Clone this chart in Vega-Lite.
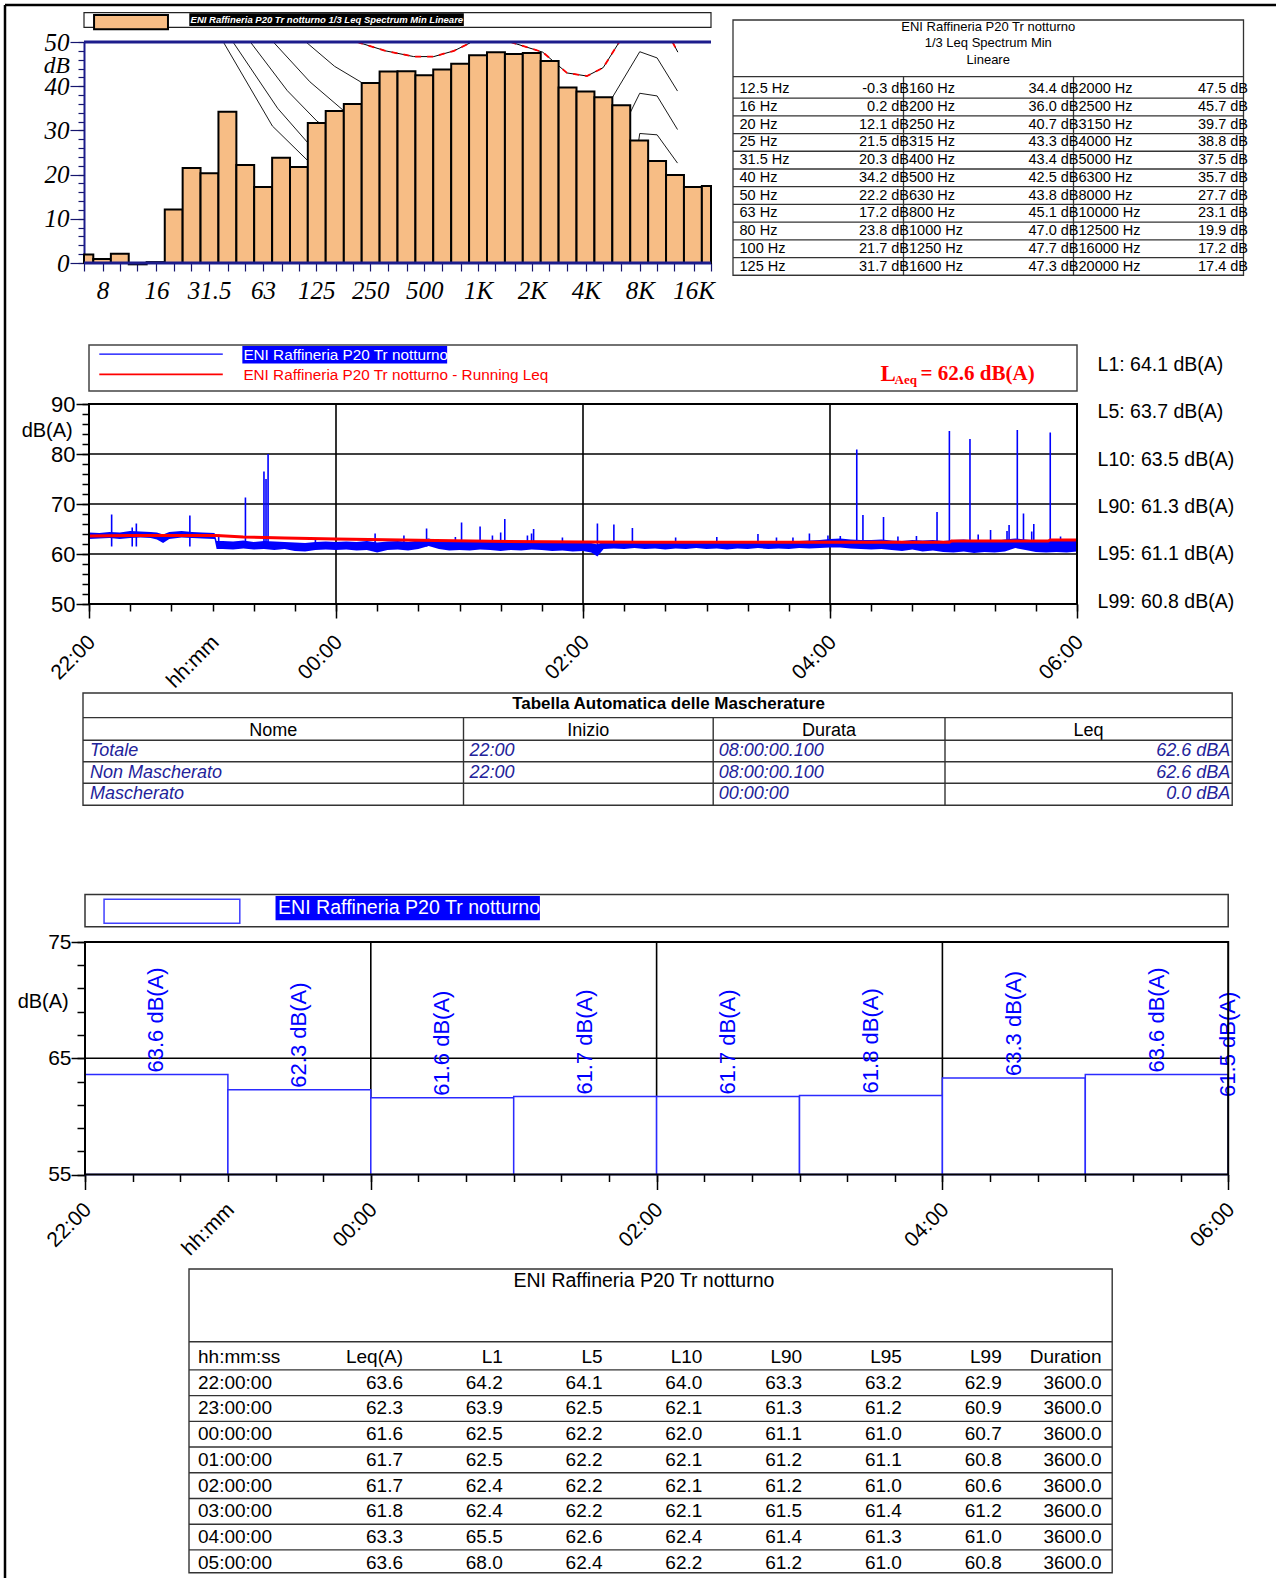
{
"$schema":"https://vega.github.io/schema/vega-lite/v6.json",
"padding":0,"background":"white","spacing":0,"bounds":"flush",
"config":{"view":{"stroke":null},"font":"Liberation Sans","concat":{"spacing":0},"axis":{"labelColor":"black","titleColor":"black","tickColor":"black"}},
"datasets":{
"spec":[
{"f":6.3,"lo":5.6,"hi":7.1,"db":1.9},{"f":8,"lo":7.1,"hi":8.9,"db":0.9},{"f":10,"lo":8.9,"hi":11.2,"db":2.1},
{"f":12.5,"lo":11.2,"hi":14.1,"db":-0.3},{"f":16,"lo":14.1,"hi":17.8,"db":0.2},{"f":20,"lo":17.8,"hi":22.4,"db":12.1},
{"f":25,"lo":22.4,"hi":28.2,"db":21.5},{"f":31.5,"lo":28.2,"hi":35.5,"db":20.3},{"f":40,"lo":35.5,"hi":44.7,"db":34.2},
{"f":50,"lo":44.7,"hi":56.2,"db":22.2},{"f":63,"lo":56.2,"hi":70.8,"db":17.2},{"f":80,"lo":70.8,"hi":89.1,"db":23.8},
{"f":100,"lo":89.1,"hi":112,"db":21.7},{"f":125,"lo":112,"hi":141,"db":31.7},{"f":160,"lo":141,"hi":178,"db":34.4},
{"f":200,"lo":178,"hi":224,"db":36.0},{"f":250,"lo":224,"hi":282,"db":40.7},{"f":315,"lo":282,"hi":355,"db":43.3},
{"f":400,"lo":355,"hi":447,"db":43.4},{"f":500,"lo":447,"hi":562,"db":42.5},{"f":630,"lo":562,"hi":708,"db":43.8},
{"f":800,"lo":708,"hi":891,"db":45.1},{"f":1000,"lo":891,"hi":1122,"db":47.0},{"f":1250,"lo":1122,"hi":1413,"db":47.7},
{"f":1600,"lo":1413,"hi":1778,"db":47.3},{"f":2000,"lo":1778,"hi":2239,"db":47.5},{"f":2500,"lo":2239,"hi":2818,"db":45.7},
{"f":3150,"lo":2818,"hi":3548,"db":39.7},{"f":4000,"lo":3548,"hi":4467,"db":38.8},{"f":5000,"lo":4467,"hi":5623,"db":37.5},
{"f":6300,"lo":5623,"hi":7079,"db":35.7},{"f":8000,"lo":7079,"hi":8913,"db":27.7},{"f":10000,"lo":8913,"hi":11220,"db":23.1},
{"f":12500,"lo":11220,"hi":14125,"db":19.9},{"f":16000,"lo":14125,"hi":17783,"db":17.2},{"f":20000,"lo":17783,"hi":22387,"db":17.4}],
"curves":[
{"id":"c1","f":37.8,"db":50},{"id":"c1","f":71,"db":31},{"id":"c1","f":111,"db":23.3},{"id":"c1","f":160,"db":18},
{"id":"c2","f":42.8,"db":50},{"id":"c2","f":76,"db":35},{"id":"c2","f":112,"db":27.2},{"id":"c2","f":170,"db":21},
{"id":"c3","f":53.5,"db":50},{"id":"c3","f":86,"db":39},{"id":"c3","f":126,"db":32.1},{"id":"c3","f":190,"db":27},
{"id":"c4","f":71.9,"db":50},{"id":"c4","f":115,"db":41},{"id":"c4","f":176,"db":34.6},{"id":"c4","f":250,"db":30},
{"id":"c5","f":109.4,"db":50},{"id":"c5","f":158,"db":44.5},{"id":"c5","f":222.5,"db":40.9},{"id":"c5","f":300,"db":37},
{"id":"t1","f":4500,"db":30},{"id":"t1","f":5690,"db":37.8},{"id":"t1","f":8000,"db":47.8},{"id":"t1","f":10000,"db":46.4},{"id":"t1","f":13000,"db":38.9},
{"id":"t2","f":6000,"db":28},{"id":"t2","f":7374,"db":35.5},{"id":"t2","f":8000,"db":38.4},{"id":"t2","f":10000,"db":37.8},{"id":"t2","f":13000,"db":30.2},
{"id":"t3","f":7400,"db":20},{"id":"t3","f":8000,"db":29.3},{"id":"t3","f":10000,"db":29.0},{"id":"t3","f":13000,"db":22.6}],
"rcurves":[
{"id":"r1","f":211,"db":50},{"id":"r1","f":304,"db":48.0},{"id":"r1","f":437,"db":46.7},{"id":"r1","f":566,"db":46.7},{"id":"r1","f":734,"db":48.0},{"id":"r1","f":903,"db":49.8},
{"id":"r2","f":1516,"db":50},{"id":"r2","f":2297,"db":47.7},{"id":"r2","f":3140,"db":43.0},{"id":"r2","f":4058,"db":42.3},{"id":"r2","f":5000,"db":44.2},{"id":"r2","f":6150,"db":50},
{"id":"r3","f":12193,"db":50},{"id":"r3","f":13056,"db":47.7}],
"stab":[
{"r":1,"fc":"c1","vc":"c2","fq":"12.5 Hz","v":"-0.3 dB"},{"r":1,"fc":"c2","vc":"c3","fq":"160 Hz","v":"34.4 dB"},{"r":1,"fc":"c3","vc":"c4","fq":"2000 Hz","v":"47.5 dB"},
{"r":2,"fc":"c1","vc":"c2","fq":"16 Hz","v":"0.2 dB"},{"r":2,"fc":"c2","vc":"c3","fq":"200 Hz","v":"36.0 dB"},{"r":2,"fc":"c3","vc":"c4","fq":"2500 Hz","v":"45.7 dB"},
{"r":3,"fc":"c1","vc":"c2","fq":"20 Hz","v":"12.1 dB"},{"r":3,"fc":"c2","vc":"c3","fq":"250 Hz","v":"40.7 dB"},{"r":3,"fc":"c3","vc":"c4","fq":"3150 Hz","v":"39.7 dB"},
{"r":4,"fc":"c1","vc":"c2","fq":"25 Hz","v":"21.5 dB"},{"r":4,"fc":"c2","vc":"c3","fq":"315 Hz","v":"43.3 dB"},{"r":4,"fc":"c3","vc":"c4","fq":"4000 Hz","v":"38.8 dB"},
{"r":5,"fc":"c1","vc":"c2","fq":"31.5 Hz","v":"20.3 dB"},{"r":5,"fc":"c2","vc":"c3","fq":"400 Hz","v":"43.4 dB"},{"r":5,"fc":"c3","vc":"c4","fq":"5000 Hz","v":"37.5 dB"},
{"r":6,"fc":"c1","vc":"c2","fq":"40 Hz","v":"34.2 dB"},{"r":6,"fc":"c2","vc":"c3","fq":"500 Hz","v":"42.5 dB"},{"r":6,"fc":"c3","vc":"c4","fq":"6300 Hz","v":"35.7 dB"},
{"r":7,"fc":"c1","vc":"c2","fq":"50 Hz","v":"22.2 dB"},{"r":7,"fc":"c2","vc":"c3","fq":"630 Hz","v":"43.8 dB"},{"r":7,"fc":"c3","vc":"c4","fq":"8000 Hz","v":"27.7 dB"},
{"r":8,"fc":"c1","vc":"c2","fq":"63 Hz","v":"17.2 dB"},{"r":8,"fc":"c2","vc":"c3","fq":"800 Hz","v":"45.1 dB"},{"r":8,"fc":"c3","vc":"c4","fq":"10000 Hz","v":"23.1 dB"},
{"r":9,"fc":"c1","vc":"c2","fq":"80 Hz","v":"23.8 dB"},{"r":9,"fc":"c2","vc":"c3","fq":"1000 Hz","v":"47.0 dB"},{"r":9,"fc":"c3","vc":"c4","fq":"12500 Hz","v":"19.9 dB"},
{"r":10,"fc":"c1","vc":"c2","fq":"100 Hz","v":"21.7 dB"},{"r":10,"fc":"c2","vc":"c3","fq":"1250 Hz","v":"47.7 dB"},{"r":10,"fc":"c3","vc":"c4","fq":"16000 Hz","v":"17.2 dB"},
{"r":11,"fc":"c1","vc":"c2","fq":"125 Hz","v":"31.7 dB"},{"r":11,"fc":"c2","vc":"c3","fq":"1600 Hz","v":"47.3 dB"},{"r":11,"fc":"c3","vc":"c4","fq":"20000 Hz","v":"17.4 dB"}],
"band":[
{"t":"2000-01-01T22:00Z","lo":63.0,"hi":64.3},{"t":"2000-01-01T22:05Z","lo":63.1,"hi":64.2},{"t":"2000-01-01T22:10Z","lo":63.2,"hi":64.4},{"t":"2000-01-01T22:15Z","lo":63.0,"hi":64.3},
{"t":"2000-01-01T22:20Z","lo":63.2,"hi":64.6},{"t":"2000-01-01T22:25Z","lo":63.3,"hi":64.5},{"t":"2000-01-01T22:30Z","lo":63.2,"hi":64.4},{"t":"2000-01-01T22:33Z","lo":62.9,"hi":64.3},
{"t":"2000-01-01T22:36Z","lo":62.2,"hi":63.9},{"t":"2000-01-01T22:39Z","lo":63.0,"hi":64.4},{"t":"2000-01-01T22:45Z","lo":63.3,"hi":64.6},{"t":"2000-01-01T22:50Z","lo":63.2,"hi":64.4},
{"t":"2000-01-01T22:55Z","lo":63.1,"hi":64.3},{"t":"2000-01-01T23:01Z","lo":63.0,"hi":64.2},{"t":"2000-01-01T23:02Z","lo":61.0,"hi":62.6},{"t":"2000-01-01T23:05Z","lo":61.0,"hi":62.6},
{"t":"2000-01-01T23:10Z","lo":60.9,"hi":62.5},{"t":"2000-01-01T23:15Z","lo":61.1,"hi":62.7},{"t":"2000-01-01T23:20Z","lo":60.9,"hi":62.4},{"t":"2000-01-01T23:25Z","lo":61.0,"hi":62.6},
{"t":"2000-01-01T23:30Z","lo":60.8,"hi":62.5},{"t":"2000-01-01T23:35Z","lo":61.0,"hi":62.4},{"t":"2000-01-01T23:40Z","lo":60.6,"hi":62.3},{"t":"2000-01-01T23:45Z","lo":60.5,"hi":62.2},
{"t":"2000-01-01T23:50Z","lo":60.8,"hi":62.4},{"t":"2000-01-01T23:55Z","lo":60.9,"hi":62.5},{"t":"2000-01-02T00:00Z","lo":60.8,"hi":62.4},{"t":"2000-01-02T00:05Z","lo":60.9,"hi":62.5},
{"t":"2000-01-02T00:10Z","lo":60.7,"hi":62.4},{"t":"2000-01-02T00:15Z","lo":60.8,"hi":62.6},{"t":"2000-01-02T00:20Z","lo":60.3,"hi":62.3},{"t":"2000-01-02T00:25Z","lo":60.8,"hi":62.5},
{"t":"2000-01-02T00:30Z","lo":60.9,"hi":62.6},{"t":"2000-01-02T00:35Z","lo":60.7,"hi":62.4},{"t":"2000-01-02T00:40Z","lo":61.0,"hi":62.7},{"t":"2000-01-02T00:45Z","lo":61.6,"hi":63.1},
{"t":"2000-01-02T00:50Z","lo":61.0,"hi":62.6},{"t":"2000-01-02T00:55Z","lo":60.7,"hi":62.4},{"t":"2000-01-02T01:00Z","lo":60.8,"hi":62.5},{"t":"2000-01-02T01:05Z","lo":60.7,"hi":62.5},
{"t":"2000-01-02T01:10Z","lo":60.9,"hi":62.7},{"t":"2000-01-02T01:15Z","lo":60.8,"hi":62.6},{"t":"2000-01-02T01:20Z","lo":60.6,"hi":62.4},{"t":"2000-01-02T01:25Z","lo":60.8,"hi":62.7},
{"t":"2000-01-02T01:30Z","lo":60.7,"hi":62.5},{"t":"2000-01-02T01:35Z","lo":60.9,"hi":62.6},{"t":"2000-01-02T01:40Z","lo":60.8,"hi":62.6},{"t":"2000-01-02T01:45Z","lo":60.6,"hi":62.4},
{"t":"2000-01-02T01:50Z","lo":60.7,"hi":62.5},{"t":"2000-01-02T01:55Z","lo":60.5,"hi":62.3},{"t":"2000-01-02T02:00Z","lo":60.6,"hi":62.4},{"t":"2000-01-02T02:04Z","lo":60.3,"hi":62.2},
{"t":"2000-01-02T02:07Z","lo":59.5,"hi":61.9},{"t":"2000-01-02T02:10Z","lo":61.0,"hi":62.5},{"t":"2000-01-02T02:15Z","lo":61.1,"hi":62.5},{"t":"2000-01-02T02:20Z","lo":61.0,"hi":62.4},
{"t":"2000-01-02T02:25Z","lo":61.2,"hi":62.6},{"t":"2000-01-02T02:30Z","lo":61.0,"hi":62.4},{"t":"2000-01-02T02:35Z","lo":61.1,"hi":62.5},{"t":"2000-01-02T02:40Z","lo":60.9,"hi":62.3},
{"t":"2000-01-02T02:45Z","lo":61.1,"hi":62.5},{"t":"2000-01-02T02:50Z","lo":61.0,"hi":62.4},{"t":"2000-01-02T02:55Z","lo":61.2,"hi":62.6},{"t":"2000-01-02T03:00Z","lo":61.0,"hi":62.5},
{"t":"2000-01-02T03:05Z","lo":61.1,"hi":62.4},{"t":"2000-01-02T03:10Z","lo":60.9,"hi":62.5},{"t":"2000-01-02T03:15Z","lo":61.1,"hi":62.6},{"t":"2000-01-02T03:20Z","lo":61.0,"hi":62.4},
{"t":"2000-01-02T03:25Z","lo":61.2,"hi":62.5},{"t":"2000-01-02T03:30Z","lo":61.0,"hi":62.4},{"t":"2000-01-02T03:35Z","lo":61.1,"hi":62.6},{"t":"2000-01-02T03:40Z","lo":61.0,"hi":62.5},
{"t":"2000-01-02T03:45Z","lo":61.2,"hi":62.6},{"t":"2000-01-02T03:50Z","lo":61.1,"hi":62.7},{"t":"2000-01-02T03:55Z","lo":61.2,"hi":62.8},{"t":"2000-01-02T04:00Z","lo":61.3,"hi":63.0},
{"t":"2000-01-02T04:05Z","lo":61.3,"hi":63.1},{"t":"2000-01-02T04:10Z","lo":61.1,"hi":62.9},{"t":"2000-01-02T04:15Z","lo":61.0,"hi":62.8},{"t":"2000-01-02T04:20Z","lo":60.9,"hi":62.8},
{"t":"2000-01-02T04:25Z","lo":61.0,"hi":62.9},{"t":"2000-01-02T04:30Z","lo":60.8,"hi":62.7},{"t":"2000-01-02T04:35Z","lo":60.6,"hi":62.6},{"t":"2000-01-02T04:40Z","lo":60.9,"hi":62.8},
{"t":"2000-01-02T04:45Z","lo":60.5,"hi":62.7},{"t":"2000-01-02T04:50Z","lo":60.7,"hi":62.8},{"t":"2000-01-02T04:55Z","lo":60.4,"hi":62.6},{"t":"2000-01-02T05:00Z","lo":60.3,"hi":62.8},
{"t":"2000-01-02T05:05Z","lo":60.5,"hi":62.9},{"t":"2000-01-02T05:10Z","lo":60.2,"hi":62.7},{"t":"2000-01-02T05:15Z","lo":60.4,"hi":62.8},{"t":"2000-01-02T05:20Z","lo":60.3,"hi":62.6},
{"t":"2000-01-02T05:25Z","lo":60.5,"hi":62.9},{"t":"2000-01-02T05:30Z","lo":61.2,"hi":63.1},{"t":"2000-01-02T05:35Z","lo":60.8,"hi":62.9},{"t":"2000-01-02T05:40Z","lo":60.4,"hi":62.7},
{"t":"2000-01-02T05:45Z","lo":60.3,"hi":62.8},{"t":"2000-01-02T05:50Z","lo":60.4,"hi":62.7},{"t":"2000-01-02T05:55Z","lo":60.3,"hi":62.6},{"t":"2000-01-02T06:00Z","lo":60.5,"hi":62.8}],
"spk":[
{"t":"2000-01-01T22:11Z","p":67.9},{"t":"2000-01-01T22:21Z","p":65.3},{"t":"2000-01-01T22:23Z","p":66.1},{"t":"2000-01-01T22:49Z","p":67.7},
{"t":"2000-01-01T23:03Z","p":63.9},{"t":"2000-01-01T23:16Z","p":71.3},{"t":"2000-01-01T23:25Z","p":76.5},{"t":"2000-01-01T23:26Z","p":75.0},
{"t":"2000-01-01T23:27Z","p":80.0},{"t":"2000-01-01T23:50Z","p":63.2},{"t":"2000-01-02T00:19Z","p":64.1},{"t":"2000-01-02T00:33Z","p":63.7},
{"t":"2000-01-02T00:44Z","p":65.1},{"t":"2000-01-02T00:58Z","p":63.4},{"t":"2000-01-02T01:01Z","p":66.3},{"t":"2000-01-02T01:10Z","p":65.5},
{"t":"2000-01-02T01:16Z","p":63.7},{"t":"2000-01-02T01:20Z","p":64.3},{"t":"2000-01-02T01:22Z","p":67.0},{"t":"2000-01-02T01:33Z","p":63.7},
{"t":"2000-01-02T01:35Z","p":64.1},{"t":"2000-01-02T01:36Z","p":65.0},{"t":"2000-01-02T01:50Z","p":63.3},{"t":"2000-01-02T02:07Z","p":66.1},
{"t":"2000-01-02T02:15Z","p":65.9},{"t":"2000-01-02T02:24Z","p":65.2},{"t":"2000-01-02T02:45Z","p":63.3},{"t":"2000-01-02T03:05Z","p":63.4},
{"t":"2000-01-02T03:25Z","p":64.0},{"t":"2000-01-02T03:34Z","p":63.3},{"t":"2000-01-02T03:42Z","p":63.3},{"t":"2000-01-02T03:50Z","p":64.1},
{"t":"2000-01-02T03:59Z","p":63.7},{"t":"2000-01-02T04:05Z","p":63.6},{"t":"2000-01-02T04:13Z","p":80.9},{"t":"2000-01-02T04:16Z","p":67.8},
{"t":"2000-01-02T04:26Z","p":67.4},{"t":"2000-01-02T04:33Z","p":63.5},{"t":"2000-01-02T04:42Z","p":63.6},{"t":"2000-01-02T04:52Z","p":68.4},
{"t":"2000-01-02T04:58Z","p":84.6},{"t":"2000-01-02T05:08Z","p":83.0},{"t":"2000-01-02T05:12Z","p":63.9},{"t":"2000-01-02T05:18Z","p":64.8},
{"t":"2000-01-02T05:26Z","p":64.6},{"t":"2000-01-02T05:27Z","p":65.8},{"t":"2000-01-02T05:31Z","p":84.8},{"t":"2000-01-02T05:34Z","p":68.1},
{"t":"2000-01-02T05:38Z","p":64.5},{"t":"2000-01-02T05:39Z","p":66.0},{"t":"2000-01-02T05:47Z","p":84.3},{"t":"2000-01-02T05:52Z","p":63.5}],
"rleq":[
{"t":"2000-01-01T22:00Z","v":63.6},{"t":"2000-01-01T22:20Z","v":63.7},{"t":"2000-01-01T23:02Z","v":63.7},{"t":"2000-01-01T23:15Z","v":63.4},
{"t":"2000-01-01T23:35Z","v":63.2},{"t":"2000-01-02T00:00Z","v":63.0},{"t":"2000-01-02T00:40Z","v":62.75},{"t":"2000-01-02T01:15Z","v":62.55},
{"t":"2000-01-02T02:00Z","v":62.4},{"t":"2000-01-02T02:30Z","v":62.35},{"t":"2000-01-02T04:58Z","v":62.35},{"t":"2000-01-02T04:59Z","v":62.6},
{"t":"2000-01-02T05:46Z","v":62.6},{"t":"2000-01-02T05:47Z","v":62.8},{"t":"2000-01-02T06:00Z","v":62.8}],
"lvals":[{"k":"L1","txt":"L1: 64.1 dB(A)"},{"k":"L5","txt":"L5: 63.7 dB(A)"},{"k":"L10","txt":"L10: 63.5 dB(A)"},{"k":"L90","txt":"L90: 61.3 dB(A)"},{"k":"L95","txt":"L95: 61.1 dB(A)"},{"k":"L99","txt":"L99: 60.8 dB(A)"}],
"mask":[{"Nome":"Totale","Inizio":"22:00","Durata":"08:00:00.100","Leq":"62.6 dBA"},{"Nome":"Non Mascherato","Inizio":"22:00","Durata":"08:00:00.100","Leq":"62.6 dBA"},{"Nome":"Mascherato","Inizio":"","Durata":"00:00:00","Leq":"0.0 dBA"}],
"hour":[
{"s":"2000-01-01T22:00Z","e":"2000-01-01T23:00Z","leq":63.6,"lab":"63.6 dB(A)"},{"s":"2000-01-01T23:00Z","e":"2000-01-02T00:00Z","leq":62.3,"lab":"62.3 dB(A)"},
{"s":"2000-01-02T00:00Z","e":"2000-01-02T01:00Z","leq":61.6,"lab":"61.6 dB(A)"},{"s":"2000-01-02T01:00Z","e":"2000-01-02T02:00Z","leq":61.7,"lab":"61.7 dB(A)"},
{"s":"2000-01-02T02:00Z","e":"2000-01-02T03:00Z","leq":61.7,"lab":"61.7 dB(A)"},{"s":"2000-01-02T03:00Z","e":"2000-01-02T04:00Z","leq":61.8,"lab":"61.8 dB(A)"},
{"s":"2000-01-02T04:00Z","e":"2000-01-02T05:00Z","leq":63.3,"lab":"63.3 dB(A)"},{"s":"2000-01-02T05:00Z","e":"2000-01-02T06:00Z","leq":63.6,"lab":"63.6 dB(A)"}],
"bt":[
{"t":"22:00:00","Leq":63.6,"L1":64.2,"L5":64.1,"L10":64.0,"L90":63.3,"L95":63.2,"L99":62.9,"Duration":3600.0},
{"t":"23:00:00","Leq":62.3,"L1":63.9,"L5":62.5,"L10":62.1,"L90":61.3,"L95":61.2,"L99":60.9,"Duration":3600.0},
{"t":"00:00:00","Leq":61.6,"L1":62.5,"L5":62.2,"L10":62.0,"L90":61.1,"L95":61.0,"L99":60.7,"Duration":3600.0},
{"t":"01:00:00","Leq":61.7,"L1":62.5,"L5":62.2,"L10":62.1,"L90":61.2,"L95":61.1,"L99":60.8,"Duration":3600.0},
{"t":"02:00:00","Leq":61.7,"L1":62.4,"L5":62.2,"L10":62.1,"L90":61.2,"L95":61.0,"L99":60.6,"Duration":3600.0},
{"t":"03:00:00","Leq":61.8,"L1":62.4,"L5":62.2,"L10":62.1,"L90":61.5,"L95":61.4,"L99":61.2,"Duration":3600.0},
{"t":"04:00:00","Leq":63.3,"L1":65.5,"L5":62.6,"L10":62.4,"L90":61.4,"L95":61.3,"L99":61.0,"Duration":3600.0},
{"t":"05:00:00","Leq":63.6,"L1":68.0,"L5":62.4,"L10":62.2,"L90":61.2,"L95":61.0,"L99":60.8,"Duration":3600.0}],
"bth":[{"k":"Leq","h":"Leq(A)"},{"k":"L1","h":"L1"},{"k":"L5","h":"L5"},{"k":"L10","h":"L10"},{"k":"L90","h":"L90"},{"k":"L95","h":"L95"},{"k":"L99","h":"L99"},{"k":"Duration","h":"Duration"}]
},
"vconcat":[
{"width":10,"height":42,"data":{"values":[]},"mark":"point"},
{"hconcat":[
 {"width":84,"height":221,"data":{"values":[]},"mark":"point"},
 {"width":627,"height":221,
  "resolve":{"scale":{"x":"independent","y":"independent"},"axis":{"x":"independent","y":"independent"}},
  "layer":[
   {"data":{"values":[{}]},"mark":{"type":"rule","color":"black","strokeWidth":2.5},"encoding":{"x":{"datum":0,"type":"quantitative","scale":{"domain":[0,1],"range":[-79,1192],"nice":false,"zero":false},"axis":null},"y":{"datum":0,"type":"quantitative","scale":{"domain":[0,1],"range":[-37,1536],"nice":false,"zero":false},"axis":null},"y2":{"datum":1}}},
   {"data":{"values":[{}]},"mark":{"type":"rule","color":"black","strokeWidth":2.5},"encoding":{"x":{"datum":0,"type":"quantitative","scale":{"domain":[0,1],"range":[-79,1192],"nice":false,"zero":false},"axis":null},"x2":{"datum":1},"y":{"datum":0,"type":"quantitative","scale":{"domain":[0,1],"range":[-37,1536],"nice":false,"zero":false},"axis":null}}},
   {"data":{"values":[{}]},"mark":{"type":"rect","fill":"white","stroke":"#222222","strokeWidth":1.2},"encoding":{"x":{"datum":6.3,"type":"quantitative","scale":{"type":"log","domain":[6.3,20000],"range":[0,627],"clamp":true,"nice":false},"axis":null},"x2":{"datum":20000},"y":{"datum":53.33,"type":"quantitative","scale":{"domain":[0,50],"range":[221,0],"nice":false,"zero":false},"axis":null},"y2":{"datum":56.63}}},
   {"data":{"values":[{}]},"mark":{"type":"rect","fill":"#F7BD85","stroke":"black","strokeWidth":2},"encoding":{"x":{"datum":7.17,"type":"quantitative","scale":{"type":"log","domain":[6.3,20000],"range":[0,627],"clamp":true,"nice":false},"axis":null},"x2":{"datum":18.55},"y":{"datum":52.87,"type":"quantitative","scale":{"domain":[0,50],"range":[221,0],"nice":false,"zero":false},"axis":null},"y2":{"datum":56.1}}},
   {"data":{"values":[{}]},"mark":{"type":"rect","fill":"black"},"encoding":{"x":{"datum":24.4,"type":"quantitative","scale":{"type":"log","domain":[6.3,20000],"range":[0,627],"clamp":true,"nice":false},"axis":null},"x2":{"datum":833},"y":{"datum":53.62,"type":"quantitative","scale":{"domain":[0,50],"range":[221,0],"nice":false,"zero":false},"axis":null},"y2":{"datum":56.49}}},
   {"data":{"values":[{}]},"mark":{"type":"text","align":"left","baseline":"middle","fontStyle":"italic","fontWeight":"bold","fontSize":9.5,"color":"white"},"encoding":{"x":{"datum":24.8,"type":"quantitative","scale":{"type":"log","domain":[6.3,20000],"range":[0,627],"clamp":true,"nice":false},"axis":null},"y":{"datum":55.05,"type":"quantitative","scale":{"domain":[0,50],"range":[221,0],"nice":false,"zero":false},"axis":null},"text":{"value":"ENI Raffineria P20 Tr notturno 1/3 Leq Spectrum Min Lineare"}}},
   {"data":{"name":"curves"},"mark":{"type":"line","color":"black","strokeWidth":0.9},"encoding":{"x":{"field":"f","type":"quantitative","scale":{"type":"log","domain":[6.3,20000],"range":[0,627],"clamp":true,"nice":false},"axis":null},"y":{"field":"db","type":"quantitative","scale":{"domain":[0,50],"range":[221,0],"nice":false,"zero":false},"axis":null},"detail":{"field":"id","type":"nominal"}}},
   {"data":{"name":"rcurves"},"mark":{"type":"line","color":"black","strokeWidth":1},"encoding":{"x":{"field":"f","type":"quantitative","scale":{"type":"log","domain":[6.3,20000],"range":[0,627],"clamp":true,"nice":false},"axis":null},"y":{"field":"db","type":"quantitative","scale":{"domain":[0,50],"range":[221,0],"nice":false,"zero":false},"axis":null},"detail":{"field":"id","type":"nominal"}}},
   {"data":{"name":"rcurves"},"mark":{"type":"line","color":"#ff0000","strokeWidth":1.8,"strokeDash":[6,6]},"encoding":{"x":{"field":"f","type":"quantitative","scale":{"type":"log","domain":[6.3,20000],"range":[0,627],"clamp":true,"nice":false},"axis":null},"y":{"field":"db","type":"quantitative","scale":{"domain":[0,50],"range":[221,0],"nice":false,"zero":false},"axis":null},"detail":{"field":"id","type":"nominal"}}},
   {"data":{"name":"spec"},"mark":{"type":"rect","fill":"#F7BD85","stroke":"black","strokeWidth":2},
    "encoding":{
     "x":{"field":"lo","type":"quantitative","scale":{"type":"log","domain":[6.3,20000],"range":[0,627],"clamp":true,"nice":false},
      "axis":{"orient":"bottom","values":[6.3,8,10,12.5,16,20,25,31.5,40,50,63,80,100,125,160,200,250,315,400,500,630,800,1000,1250,1600,2000,2500,3150,4000,5000,6300,8000,10000,12500,16000,20000],
       "labelExpr":"indexof([8,16,31.5,63,125,250,500], datum.value) >= 0 ? '' + datum.value : (indexof([1000,2000,4000,8000,16000], datum.value) >= 0 ? (datum.value/1000) + 'K' : '')",
       "domain":false,"grid":false,"title":null,"tickSize":8,"tickWidth":1.2,"tickColor":"#15156e","labelFont":"Liberation Serif","labelFontStyle":"italic","labelFontSize":25,"labelPadding":7,"labelBaseline":"top","labelOverlap":false,"labelBound":false,"labelFlush":false}},
     "x2":{"field":"hi"},
     "y":{"field":"db","type":"quantitative","scale":{"domain":[0,50],"range":[221,0],"nice":false,"zero":false},
      "axis":{"orient":"left","values":[0,2,4,6,8,10,12,14,16,18,20,22,24,26,28,30,32,34,36,38,40,42,44,46,48,50],
       "labelExpr":"datum.value % 10 == 0 ? '' + datum.value : ''","domain":true,"domainColor":"#1c1c8c","domainWidth":2,"grid":false,
       "tickSize":6,"tickColor":"#15156e","tickWidth":1.2,
       "labelFont":"Liberation Serif","labelFontStyle":"italic","labelFontSize":25,"labelPadding":9,"labelOverlap":false,"labelBound":false,"labelFlush":false,
       "title":"dB","titleAngle":0,"titleX":-27.6,"titleY":23.5,"titleAlign":"center","titleBaseline":"middle","titleFont":"Liberation Serif","titleFontStyle":"italic","titleFontSize":23.5,"titleFontWeight":"normal"}},
     "y2":{"datum":0}}},
   {"data":{"values":[{}]},"mark":{"type":"rule","color":"#1c1c8c","strokeWidth":3},"encoding":{"x":{"datum":6.3,"type":"quantitative","scale":{"type":"log","domain":[6.3,20000],"range":[0,627],"clamp":true,"nice":false},"axis":null},"x2":{"datum":20000},"y":{"datum":50,"type":"quantitative","scale":{"domain":[0,50],"range":[221,0],"nice":false,"zero":false},"axis":{"orient":"left","values":[0,10,20,30,40,50],"tickSize":14,"labels":false,"domain":false,"grid":false,"title":null,"tickColor":"#15156e","tickWidth":1.2}}}},
   {"data":{"values":[{}]},"mark":{"type":"rule","color":"#1c1c8c","strokeWidth":3},"encoding":{"x":{"datum":6.3,"type":"quantitative","scale":{"type":"log","domain":[6.3,20000],"range":[0,627],"clamp":true,"nice":false},"axis":null},"x2":{"datum":20000},"y":{"datum":0,"type":"quantitative","scale":{"domain":[0,50],"range":[221,0],"nice":false,"zero":false},"axis":null}}}
  ]},
 {"width":21.5,"height":221,"data":{"values":[]},"mark":"point"},
 {"width":510.5,"height":221,
  "resolve":{"scale":{"x":"independent","y":"independent"},"axis":{"x":"independent","y":"independent"}},
  "layer":[
   {"data":{"values":[{}]},"mark":{"type":"rect","fillOpacity":0,"stroke":"#333333","strokeWidth":1.3},"encoding":{"x":{"datum":0,"type":"quantitative","scale":{"domain":[0,1],"range":[0,510.5],"nice":false,"zero":false},"axis":null},"x2":{"datum":1},"y":{"datum":0,"type":"quantitative","scale":{"domain":[0,1],"range":[-22,233.3],"nice":false,"zero":false},"axis":null},"y2":{"datum":1}}},
   {"data":{"values":[{}]},"mark":{"type":"rule","color":"#333333","strokeWidth":1.3},"encoding":{"x":{"datum":0,"type":"quantitative","scale":{"domain":[0,1],"range":[0,510.5],"nice":false,"zero":false},"axis":null},"x2":{"datum":1},"y":{"datum":0.2221,"type":"quantitative","scale":{"domain":[0,1],"range":[-22,233.3],"nice":false,"zero":false},"axis":null}}},
   {"data":{"values":[{}]},"mark":{"type":"rule","color":"#333333","strokeWidth":1.3},"encoding":{"x":{"datum":0.334,"type":"quantitative","scale":{"domain":[0,1],"range":[0,510.5],"nice":false,"zero":false},"axis":null},"y":{"datum":0.2221,"type":"quantitative","scale":{"domain":[0,1],"range":[-22,233.3],"nice":false,"zero":false},"axis":null},"y2":{"datum":1}}},
   {"data":{"values":[{}]},"mark":{"type":"rule","color":"#333333","strokeWidth":1.3},"encoding":{"x":{"datum":0.667,"type":"quantitative","scale":{"domain":[0,1],"range":[0,510.5],"nice":false,"zero":false},"axis":null},"y":{"datum":0.2221,"type":"quantitative","scale":{"domain":[0,1],"range":[-22,233.3],"nice":false,"zero":false},"axis":null},"y2":{"datum":1}}},
   {"data":{"values":[{}]},"mark":{"type":"text","align":"center","baseline":"middle","fontSize":13,"lineHeight":16.7,"color":"black"},"encoding":{"x":{"datum":0.5,"type":"quantitative","scale":{"domain":[0,1],"range":[0,510.5],"nice":false,"zero":false},"axis":null},"y":{"datum":0.0262,"type":"quantitative","scale":{"domain":[0,1],"range":[-22,233.3],"nice":false,"zero":false},"axis":null},"text":{"value":["ENI Raffineria P20 Tr notturno","1/3 Leq Spectrum Min","Lineare"]}}},
   {"data":{"name":"stab"},"transform":[{"filter":"datum.fc == 'c1'"}],"mark":{"type":"rule","color":"#333333","strokeWidth":1.3,"yOffset":8.87},"encoding":{"x":{"datum":0,"type":"quantitative","scale":{"domain":[0,1],"range":[0,510.5],"nice":false,"zero":false},"axis":null},"x2":{"datum":1},"y":{"field":"r","type":"ordinal","scale":{"type":"point","domain":[1,2,3,4,5,6,7,8,9,10,11],"range":[47.2,224.5],"padding":0},"axis":null}}},
   {"data":{"name":"stab"},"mark":{"type":"text","align":"left","baseline":"middle","fontSize":14.5,"color":"black"},"encoding":{"x":{"field":"fc","type":"nominal","scale":{"type":"point","domain":["c1","c2","c3","c4"],"range":[6.5,515],"padding":0},"axis":null},"y":{"field":"r","type":"ordinal","scale":{"type":"point","domain":[1,2,3,4,5,6,7,8,9,10,11],"range":[47.2,224.5],"padding":0},"axis":null},"text":{"field":"fq"}}},
   {"data":{"name":"stab"},"mark":{"type":"text","align":"right","baseline":"middle","fontSize":14.5,"color":"black"},"encoding":{"x":{"field":"vc","type":"nominal","scale":{"type":"point","domain":["c1","c2","c3","c4"],"range":[6.5,515],"padding":0},"axis":null},"y":{"field":"r","type":"ordinal","scale":{"type":"point","domain":[1,2,3,4,5,6,7,8,9,10,11],"range":[47.2,224.5],"padding":0},"axis":null},"text":{"field":"v"}}}
  ]}
],"spacing":0,"bounds":"flush"},
{"width":10,"height":362,"data":{"values":[]},"mark":"point"},
{"hconcat":[
 {"width":88.6,"height":200,"data":{"values":[]},"mark":"point"},
 {"width":988,"height":200,
  "resolve":{"scale":{"x":"independent","y":"independent"},"axis":{"x":"independent","y":"independent"}},
  "layer":[
   {"data":{"values":[{"g":60},{"g":70},{"g":80}]},"mark":{"type":"rule","color":"black","strokeWidth":1.6},"encoding":{
     "x":{"datum":946764000000,"type":"temporal","scale":{"type":"utc","domain":[946764000000,946792800000],"range":[0,988],"nice":false},"axis":{"orient":"bottom","values":[946764000000,946771200000,946778400000,946785600000,946792800000],"tickSize":14,"labels":false,"domain":false,"grid":false,"title":null,"tickWidth":1.5,"tickColor":"black"}},
     "x2":{"datum":946792800000},
     "y":{"field":"g","type":"quantitative","scale":{"domain":[50,90],"range":[200,0],"nice":false,"zero":false},"axis":{"orient":"left","values":[50,60,70,80,90],"tickSize":13,"labels":false,"domain":false,"grid":false,"title":null,"tickWidth":1.5,"tickColor":"black"}}}},
   {"data":{"values":[{"g":"2000-01-02T00:00Z"},{"g":"2000-01-02T02:00Z"},{"g":"2000-01-02T04:00Z"}]},"mark":{"type":"rule","color":"black","strokeWidth":1.6},"encoding":{"x":{"field":"g","type":"temporal","scale":{"type":"utc","domain":[946764000000,946792800000],"range":[0,988],"nice":false},"axis":null},"y":{"datum":50,"type":"quantitative","scale":{"domain":[50,90],"range":[200,0],"nice":false,"zero":false},"axis":null},"y2":{"datum":90}}},
   {"data":{"name":"band"},"mark":{"type":"area","color":"#0000ff","opacity":1},"encoding":{"x":{"field":"t","type":"temporal","scale":{"type":"utc","domain":[946764000000,946792800000],"range":[0,988],"nice":false},"axis":null},"y":{"field":"hi","type":"quantitative","scale":{"domain":[50,90],"range":[200,0],"nice":false,"zero":false},"axis":null},"y2":{"field":"lo"}}},
   {"data":{"name":"spk"},"mark":{"type":"rule","color":"#0000ff","strokeWidth":1.6},"encoding":{"x":{"field":"t","type":"temporal","scale":{"type":"utc","domain":[946764000000,946792800000],"range":[0,988],"nice":false},"axis":null},"y":{"field":"p","type":"quantitative","scale":{"domain":[50,90],"range":[200,0],"nice":false,"zero":false},"axis":null},"y2":{"datum":61.5}}},
   {"data":{"name":"rleq"},"mark":{"type":"line","color":"#ff0000","strokeWidth":3},"encoding":{"x":{"field":"t","type":"temporal","scale":{"type":"utc","domain":[946764000000,946792800000],"range":[0,988],"nice":false},"axis":null},"y":{"field":"v","type":"quantitative","scale":{"domain":[50,90],"range":[200,0],"nice":false,"zero":false},"axis":null}}},
   {"data":{"values":[{}]},"mark":{"type":"rect","fillOpacity":0,"stroke":"black","strokeWidth":2},
    "encoding":{
     "x":{"datum":946764000000,"type":"temporal","scale":{"type":"utc","domain":[946764000000,946792800000],"range":[0,988],"nice":false},
      "axis":{"orient":"bottom","values":[946764000000,946765200000,946766400000,946767600000,946768800000,946770000000,946771200000,946772400000,946773600000,946774800000,946776000000,946777200000,946778400000,946779600000,946780800000,946782000000,946783200000,946784400000,946785600000,946786800000,946788000000,946789200000,946790400000,946791600000,946792800000],
       "labelExpr":"(utchours(datum.value) == 23 && utcminutes(datum.value) == 0) ? 'hh:mm' : ((utcminutes(datum.value) == 0 && utchours(datum.value) % 2 == 0) ? utcFormat(datum.value, '%H:%M') : '')",
       "tickSize":7,"tickWidth":1.5,"tickColor":"black","domain":false,"grid":false,"title":null,
       "labelAngle":-45,"labelAlign":"right","labelBaseline":"top","labelFontSize":21,"labelPadding":20,"labelOffset":-5,"labelOverlap":false,"labelBound":false,"labelFlush":false}},
     "x2":{"datum":946792800000},
     "y":{"datum":50,"type":"quantitative","scale":{"domain":[50,90],"range":[200,0],"nice":false,"zero":false},
      "axis":{"orient":"left","values":[50,52,54,56,58,60,62,64,66,68,70,72,74,76,78,80,82,84,86,88,90],
       "labelExpr":"datum.value % 10 == 0 ? '' + datum.value : ''","domain":false,"grid":false,
       "tickSize":7,"tickWidth":1.5,"tickColor":"black",
       "labelFontSize":22,"labelPadding":7,"labelOverlap":false,"labelBound":false,"labelFlush":false,
       "title":"dB(A)","titleAngle":0,"titleX":-42.3,"titleY":26,"titleAlign":"center","titleBaseline":"middle","titleFontSize":20,"titleFontWeight":"normal"}},
     "y2":{"datum":90}}},
   {"data":{"values":[{}]},"mark":{"type":"rect","fill":"white","stroke":"#444444","strokeWidth":1.5},"encoding":{"x":{"datum":946764000000,"type":"temporal","scale":{"type":"utc","domain":[946764000000,946792800000],"range":[0,988],"nice":false},"axis":null},"x2":{"datum":946792800000},"y":{"datum":92.6,"type":"quantitative","scale":{"domain":[50,90],"range":[200,0],"nice":false,"zero":false},"axis":null},"y2":{"datum":101.8}}},
   {"data":{"values":[{}]},"mark":{"type":"rule","color":"#0000ff","strokeWidth":1.3},"encoding":{"x":{"datum":946764300000,"type":"temporal","scale":{"type":"utc","domain":[946764000000,946792800000],"range":[0,988],"nice":false},"axis":null},"x2":{"datum":946767900000},"y":{"datum":99.96,"type":"quantitative","scale":{"domain":[50,90],"range":[200,0],"nice":false,"zero":false},"axis":null}}},
   {"data":{"values":[{}]},"mark":{"type":"rule","color":"#ff0000","strokeWidth":1.8},"encoding":{"x":{"datum":946764300000,"type":"temporal","scale":{"type":"utc","domain":[946764000000,946792800000],"range":[0,988],"nice":false},"axis":null},"x2":{"datum":946767900000},"y":{"datum":95.94,"type":"quantitative","scale":{"domain":[50,90],"range":[200,0],"nice":false,"zero":false},"axis":null}}},
   {"data":{"values":[{}]},"mark":{"type":"rect","fill":"#0000ff"},"encoding":{"x":{"datum":946768470000,"type":"temporal","scale":{"type":"utc","domain":[946764000000,946792800000],"range":[0,988],"nice":false},"axis":null},"x2":{"datum":946774440000},"y":{"datum":98.1,"type":"quantitative","scale":{"domain":[50,90],"range":[200,0],"nice":false,"zero":false},"axis":null},"y2":{"datum":101.6}}},
   {"data":{"values":[{}]},"mark":{"type":"text","align":"left","baseline":"middle","fontSize":15.3,"color":"white"},"encoding":{"x":{"datum":946768500000,"type":"temporal","scale":{"type":"utc","domain":[946764000000,946792800000],"range":[0,988],"nice":false},"axis":null},"y":{"datum":99.85,"type":"quantitative","scale":{"domain":[50,90],"range":[200,0],"nice":false,"zero":false},"axis":null},"text":{"value":"ENI Raffineria P20 Tr notturno"}}},
   {"data":{"values":[{}]},"mark":{"type":"text","align":"left","baseline":"middle","fontSize":15.3,"color":"#ff0000"},"encoding":{"x":{"datum":946768500000,"type":"temporal","scale":{"type":"utc","domain":[946764000000,946792800000],"range":[0,988],"nice":false},"axis":null},"y":{"datum":95.9,"type":"quantitative","scale":{"domain":[50,90],"range":[200,0],"nice":false,"zero":false},"axis":null},"text":{"value":"ENI Raffineria P20 Tr notturno - Running Leq"}}},
   {"data":{"values":[{}]},"mark":{"type":"text","align":"left","baseline":"middle","font":"Liberation Serif","fontWeight":"bold","fontSize":23,"color":"#ff0000"},"encoding":{"x":{"datum":946787070000,"type":"temporal","scale":{"type":"utc","domain":[946764000000,946792800000],"range":[0,988],"nice":false},"axis":null},"y":{"datum":96.1,"type":"quantitative","scale":{"domain":[50,90],"range":[200,0],"nice":false,"zero":false},"axis":null},"text":{"value":"L"}}},
   {"data":{"values":[{}]},"mark":{"type":"text","align":"left","baseline":"middle","font":"Liberation Serif","fontWeight":"bold","fontSize":13,"color":"#ff0000"},"encoding":{"x":{"datum":946787480000,"type":"temporal","scale":{"type":"utc","domain":[946764000000,946792800000],"range":[0,988],"nice":false},"axis":null},"y":{"datum":94.8,"type":"quantitative","scale":{"domain":[50,90],"range":[200,0],"nice":false,"zero":false},"axis":null},"text":{"value":"Aeq"}}},
   {"data":{"values":[{}]},"mark":{"type":"text","align":"left","baseline":"middle","font":"Liberation Serif","fontWeight":"bold","fontSize":21,"color":"#ff0000"},"encoding":{"x":{"datum":946788240000,"type":"temporal","scale":{"type":"utc","domain":[946764000000,946792800000],"range":[0,988],"nice":false},"axis":null},"y":{"datum":96.1,"type":"quantitative","scale":{"domain":[50,90],"range":[200,0],"nice":false,"zero":false},"axis":null},"text":{"value":"= 62.6 dB(A)"}}},
   {"data":{"name":"lvals"},"mark":{"type":"text","align":"left","baseline":"middle","fontSize":19.5,"color":"black"},"encoding":{"x":{"datum":946793400000,"type":"temporal","scale":{"type":"utc","domain":[946764000000,946792800000],"range":[0,988],"nice":false},"axis":null},"y":{"field":"k","type":"nominal","scale":{"type":"point","domain":["L1","L5","L10","L90","L95","L99"],"range":[-39,197.7],"padding":0},"axis":null},"text":{"field":"txt"}}}
  ]}
],"spacing":0,"bounds":"flush"},
{"width":10,"height":288.7,"data":{"values":[]},"mark":"point"},
{"hconcat":[
 {"width":82.5,"height":112.3,"data":{"values":[]},"mark":"point"},
 {"width":1149.2,"height":112.3,
  "resolve":{"scale":{"x":"independent","y":"independent"},"axis":{"x":"independent","y":"independent"}},
  "layer":[
   {"data":{"values":[{}]},"mark":{"type":"rect","fillOpacity":0,"stroke":"#333333","strokeWidth":1.4},"encoding":{"x":{"datum":0,"type":"quantitative","scale":{"domain":[0,1,2,3,4],"range":[0,380.5,630.2,862,1149.2],"nice":false,"zero":false},"axis":null},"x2":{"datum":4},"y":{"datum":0,"type":"quantitative","scale":{"domain":[0,1],"range":[0,112.3],"nice":false,"zero":false},"axis":null},"y2":{"datum":1}}},
   {"data":{"values":[{}]},"mark":{"type":"rule","color":"#333333","strokeWidth":1.4},"encoding":{"x":{"datum":0,"type":"quantitative","scale":{"domain":[0,1,2,3,4],"range":[0,380.5,630.2,862,1149.2],"nice":false,"zero":false},"axis":null},"x2":{"datum":4},"y":{"datum":0.219,"type":"quantitative","scale":{"domain":[0,1],"range":[0,112.3],"nice":false,"zero":false},"axis":null}}},
   {"data":{"values":[{}]},"mark":{"type":"rule","color":"#333333","strokeWidth":1.4},"encoding":{"x":{"datum":1,"type":"quantitative","scale":{"domain":[0,1,2,3,4],"range":[0,380.5,630.2,862,1149.2],"nice":false,"zero":false},"axis":null},"y":{"datum":0.219,"type":"quantitative","scale":{"domain":[0,1],"range":[0,112.3],"nice":false,"zero":false},"axis":null},"y2":{"datum":1}}},
   {"data":{"values":[{}]},"mark":{"type":"rule","color":"#333333","strokeWidth":1.4},"encoding":{"x":{"datum":2,"type":"quantitative","scale":{"domain":[0,1,2,3,4],"range":[0,380.5,630.2,862,1149.2],"nice":false,"zero":false},"axis":null},"y":{"datum":0.219,"type":"quantitative","scale":{"domain":[0,1],"range":[0,112.3],"nice":false,"zero":false},"axis":null},"y2":{"datum":1}}},
   {"data":{"values":[{}]},"mark":{"type":"rule","color":"#333333","strokeWidth":1.4},"encoding":{"x":{"datum":3,"type":"quantitative","scale":{"domain":[0,1,2,3,4],"range":[0,380.5,630.2,862,1149.2],"nice":false,"zero":false},"axis":null},"y":{"datum":0.219,"type":"quantitative","scale":{"domain":[0,1],"range":[0,112.3],"nice":false,"zero":false},"axis":null},"y2":{"datum":1}}},
   {"data":{"values":[{}]},"mark":{"type":"text","align":"center","baseline":"middle","fontSize":17,"fontWeight":"bold","color":"black"},"encoding":{"x":{"datum":1.821,"type":"quantitative","scale":{"domain":[0,1,2,3,4],"range":[0,380.5,630.2,862,1149.2],"nice":false,"zero":false},"axis":null},"y":{"datum":0.094,"type":"quantitative","scale":{"domain":[0,1],"range":[0,112.3],"nice":false,"zero":false},"axis":null},"text":{"value":"Tabella Automatica delle Mascherature"}}},
   {"data":{"values":[{}]},"mark":{"type":"text","align":"center","baseline":"middle","fontSize":18,"color":"black"},"encoding":{"x":{"datum":0.5,"type":"quantitative","scale":{"domain":[0,1,2,3,4],"range":[0,380.5,630.2,862,1149.2],"nice":false,"zero":false},"axis":null},"y":{"datum":0.335,"type":"quantitative","scale":{"domain":[0,1],"range":[0,112.3],"nice":false,"zero":false},"axis":null},"text":{"value":"Nome"}}},
   {"data":{"values":[{}]},"mark":{"type":"text","align":"center","baseline":"middle","fontSize":18,"color":"black"},"encoding":{"x":{"datum":1.5,"type":"quantitative","scale":{"domain":[0,1,2,3,4],"range":[0,380.5,630.2,862,1149.2],"nice":false,"zero":false},"axis":null},"y":{"datum":0.335,"type":"quantitative","scale":{"domain":[0,1],"range":[0,112.3],"nice":false,"zero":false},"axis":null},"text":{"value":"Inizio"}}},
   {"data":{"values":[{}]},"mark":{"type":"text","align":"center","baseline":"middle","fontSize":18,"color":"black"},"encoding":{"x":{"datum":2.5,"type":"quantitative","scale":{"domain":[0,1,2,3,4],"range":[0,380.5,630.2,862,1149.2],"nice":false,"zero":false},"axis":null},"y":{"datum":0.335,"type":"quantitative","scale":{"domain":[0,1],"range":[0,112.3],"nice":false,"zero":false},"axis":null},"text":{"value":"Durata"}}},
   {"data":{"values":[{}]},"mark":{"type":"text","align":"center","baseline":"middle","fontSize":18,"color":"black"},"encoding":{"x":{"datum":3.5,"type":"quantitative","scale":{"domain":[0,1,2,3,4],"range":[0,380.5,630.2,862,1149.2],"nice":false,"zero":false},"axis":null},"y":{"datum":0.335,"type":"quantitative","scale":{"domain":[0,1],"range":[0,112.3],"nice":false,"zero":false},"axis":null},"text":{"value":"Leq"}}},
   {"data":{"name":"mask"},"mark":{"type":"rule","color":"#333333","strokeWidth":1.4,"yOffset":-11},"encoding":{"x":{"datum":0,"type":"quantitative","scale":{"domain":[0,1,2,3,4],"range":[0,380.5,630.2,862,1149.2],"nice":false,"zero":false},"axis":null},"x2":{"datum":4},"y":{"field":"Nome","type":"nominal","scale":{"type":"point","domain":["Totale","Non Mascherato","Mascherato"],"range":[58.3,101.3],"padding":0},"axis":null}}},
   {"data":{"name":"mask"},"mark":{"type":"text","align":"left","baseline":"middle","dx":7,"fontSize":18,"fontStyle":"italic","color":"#23239a"},"encoding":{"x":{"datum":0,"type":"quantitative","scale":{"domain":[0,1,2,3,4],"range":[0,380.5,630.2,862,1149.2],"nice":false,"zero":false},"axis":null},"y":{"field":"Nome","type":"nominal","scale":{"type":"point","domain":["Totale","Non Mascherato","Mascherato"],"range":[58.3,101.3],"padding":0},"axis":null},"text":{"field":"Nome"}}},
   {"data":{"name":"mask"},"mark":{"type":"text","align":"left","baseline":"middle","dx":6,"fontSize":18,"fontStyle":"italic","color":"#23239a"},"encoding":{"x":{"datum":1,"type":"quantitative","scale":{"domain":[0,1,2,3,4],"range":[0,380.5,630.2,862,1149.2],"nice":false,"zero":false},"axis":null},"y":{"field":"Nome","type":"nominal","scale":{"type":"point","domain":["Totale","Non Mascherato","Mascherato"],"range":[58.3,101.3],"padding":0},"axis":null},"text":{"field":"Inizio"}}},
   {"data":{"name":"mask"},"mark":{"type":"text","align":"left","baseline":"middle","dx":5.5,"fontSize":18,"fontStyle":"italic","color":"#23239a"},"encoding":{"x":{"datum":2,"type":"quantitative","scale":{"domain":[0,1,2,3,4],"range":[0,380.5,630.2,862,1149.2],"nice":false,"zero":false},"axis":null},"y":{"field":"Nome","type":"nominal","scale":{"type":"point","domain":["Totale","Non Mascherato","Mascherato"],"range":[58.3,101.3],"padding":0},"axis":null},"text":{"field":"Durata"}}},
   {"data":{"name":"mask"},"mark":{"type":"text","align":"right","baseline":"middle","dx":-2,"fontSize":18,"fontStyle":"italic","color":"#23239a"},"encoding":{"x":{"datum":4,"type":"quantitative","scale":{"domain":[0,1,2,3,4],"range":[0,380.5,630.2,862,1149.2],"nice":false,"zero":false},"axis":null},"y":{"field":"Nome","type":"nominal","scale":{"type":"point","domain":["Totale","Non Mascherato","Mascherato"],"range":[58.3,101.3],"padding":0},"axis":null},"text":{"field":"Leq"}}}
  ]}
],"spacing":0,"bounds":"flush"},
{"width":10,"height":248.3,"data":{"values":[]},"mark":"point"},
{"hconcat":[
 {"width":84.5,"height":232.5,"data":{"values":[]},"mark":"point"},
 {"width":1143.2,"height":232.5,
  "resolve":{"scale":{"x":"independent","y":"independent"},"axis":{"x":"independent","y":"independent"}},
  "layer":[
   {"data":{"values":[{}]},"mark":{"type":"rule","color":"black","strokeWidth":1.6},"encoding":{
     "x":{"datum":946764000000,"type":"temporal","scale":{"type":"utc","domain":[946764000000,946792800000],"range":[0,1143.2],"nice":false},"axis":{"orient":"bottom","values":[946764000000,946771200000,946778400000,946785600000,946792800000],"tickSize":15,"labels":false,"domain":false,"grid":false,"title":null,"tickWidth":1.5,"tickColor":"black"}},
     "x2":{"datum":946792800000},
     "y":{"datum":65,"type":"quantitative","scale":{"domain":[55,75],"range":[232.5,0],"nice":false,"zero":false},"axis":{"orient":"left","values":[55,65,75],"tickSize":14,"labels":false,"domain":false,"grid":false,"title":null,"tickWidth":1.5,"tickColor":"black"}}}},
   {"data":{"values":[{"g":"2000-01-02T00:00Z"},{"g":"2000-01-02T02:00Z"},{"g":"2000-01-02T04:00Z"}]},"mark":{"type":"rule","color":"black","strokeWidth":1.6},"encoding":{"x":{"field":"g","type":"temporal","scale":{"type":"utc","domain":[946764000000,946792800000],"range":[0,1143.2],"nice":false},"axis":null},"y":{"datum":55,"type":"quantitative","scale":{"domain":[55,75],"range":[232.5,0],"nice":false,"zero":false},"axis":null},"y2":{"datum":75}}},
   {"data":{"name":"hour"},"mark":{"type":"rect","fill":"white","stroke":"#2b2bff","strokeWidth":1.5},"encoding":{"x":{"field":"s","type":"temporal","scale":{"type":"utc","domain":[946764000000,946792800000],"range":[0,1143.2],"nice":false},"axis":null},"x2":{"field":"e"},"y":{"field":"leq","type":"quantitative","scale":{"domain":[55,75],"range":[232.5,0],"nice":false,"zero":false},"axis":null},"y2":{"datum":55}}},
   {"data":{"name":"hour"},"mark":{"type":"text","angle":270,"align":"left","baseline":"middle","dx":2,"fontSize":22,"color":"#0000ff"},"encoding":{"x":{"field":"s","type":"temporal","timeUnit":"utcyearmonthdatehours","bandPosition":0.5,"scale":{"type":"utc","domain":[946764000000,946792800000],"range":[0,1143.2],"nice":false},"axis":null},"y":{"field":"leq","type":"quantitative","scale":{"domain":[55,75],"range":[232.5,0],"nice":false,"zero":false},"axis":null},"text":{"field":"lab"}}},
   {"data":{"values":[{"s":"2000-01-02T06:00Z","leq":61.5,"lab":"61.5 dB(A)"}]},"mark":{"type":"text","angle":270,"align":"left","baseline":"middle","dx":2,"fontSize":22,"color":"#0000ff"},"encoding":{"x":{"field":"s","type":"temporal","scale":{"type":"utc","domain":[946764000000,946792800000],"range":[0,1143.2],"nice":false},"axis":null},"y":{"field":"leq","type":"quantitative","scale":{"domain":[55,75],"range":[232.5,0],"nice":false,"zero":false},"axis":null},"text":{"field":"lab"}}},
   {"data":{"values":[{}]},"mark":{"type":"rect","fillOpacity":0,"stroke":"black","strokeWidth":2},
    "encoding":{
     "x":{"datum":946764000000,"type":"temporal","scale":{"type":"utc","domain":[946764000000,946792800000],"range":[0,1143.2],"nice":false},
      "axis":{"orient":"bottom","values":[946764000000,946765200000,946766400000,946767600000,946768800000,946770000000,946771200000,946772400000,946773600000,946774800000,946776000000,946777200000,946778400000,946779600000,946780800000,946782000000,946783200000,946784400000,946785600000,946786800000,946788000000,946789200000,946790400000,946791600000,946792800000],
       "labelExpr":"(utchours(datum.value) == 23 && utcminutes(datum.value) == 0) ? 'hh:mm' : ((utcminutes(datum.value) == 0 && utchours(datum.value) % 2 == 0) ? utcFormat(datum.value, '%H:%M') : '')",
       "tickSize":7,"tickWidth":1.5,"tickColor":"black","domain":false,"grid":false,"title":null,
       "labelAngle":-45,"labelAlign":"right","labelBaseline":"top","labelFontSize":21,"labelPadding":17,"labelOffset":-5,"labelOverlap":false,"labelBound":false,"labelFlush":false}},
     "x2":{"datum":946792800000},
     "y":{"datum":55,"type":"quantitative","scale":{"domain":[55,75],"range":[232.5,0],"nice":false,"zero":false},
      "axis":{"orient":"left","values":[55,57,59,61,63,65,67,69,71,73,75],
       "labelExpr":"(datum.value - 55) % 10 == 0 ? '' + datum.value : ''","domain":false,"grid":false,
       "tickSize":8,"tickWidth":1.5,"tickColor":"black",
       "labelFontSize":21,"labelPadding":6,"labelOverlap":false,"labelBound":false,"labelFlush":false,
       "title":"dB(A)","titleAngle":0,"titleX":-42.3,"titleY":59,"titleAlign":"center","titleBaseline":"middle","titleFontSize":20,"titleFontWeight":"normal"}},
     "y2":{"datum":75}}},
   {"data":{"values":[{}]},"mark":{"type":"rect","fill":"white","stroke":"#333333","strokeWidth":1.5},"encoding":{"x":{"datum":946764000000,"type":"temporal","scale":{"type":"utc","domain":[946764000000,946792800000],"range":[0,1143.2],"nice":false},"axis":null},"x2":{"datum":946792800000},"y":{"datum":76.31,"type":"quantitative","scale":{"domain":[55,75],"range":[232.5,0],"nice":false,"zero":false},"axis":null},"y2":{"datum":79.08}}},
   {"data":{"values":[{}]},"mark":{"type":"rect","fillOpacity":0,"stroke":"#4040ff","strokeWidth":1.5},"encoding":{"x":{"datum":946764480000,"type":"temporal","scale":{"type":"utc","domain":[946764000000,946792800000],"range":[0,1143.2],"nice":false},"axis":null},"x2":{"datum":946767900000},"y":{"datum":76.61,"type":"quantitative","scale":{"domain":[55,75],"range":[232.5,0],"nice":false,"zero":false},"axis":null},"y2":{"datum":78.67}}},
   {"data":{"values":[{}]},"mark":{"type":"rect","fill":"#0000ff"},"encoding":{"x":{"datum":946768800000,"type":"temporal","scale":{"type":"utc","domain":[946764000000,946792800000],"range":[0,1143.2],"nice":false},"axis":null},"x2":{"datum":946775460000},"y":{"datum":76.87,"type":"quantitative","scale":{"domain":[55,75],"range":[232.5,0],"nice":false,"zero":false},"axis":null},"y2":{"datum":78.96}}},
   {"data":{"values":[{}]},"mark":{"type":"text","align":"left","baseline":"middle","fontSize":19.6,"color":"white"},"encoding":{"x":{"datum":946768860000,"type":"temporal","scale":{"type":"utc","domain":[946764000000,946792800000],"range":[0,1143.2],"nice":false},"axis":null},"y":{"datum":77.92,"type":"quantitative","scale":{"domain":[55,75],"range":[232.5,0],"nice":false,"zero":false},"axis":null},"text":{"value":"ENI Raffineria P20 Tr notturno"}}}
  ]}
],"spacing":0,"bounds":"flush"},
{"width":10,"height":326.3,"data":{"values":[]},"mark":"point"},
{"hconcat":[
 {"width":189,"height":303.7,"data":{"values":[]},"mark":"point"},
 {"width":923.2,"height":303.7,
  "resolve":{"scale":{"x":"independent","y":"independent"},"axis":{"x":"independent","y":"independent"}},
  "layer":[
   {"data":{"values":[{}]},"mark":{"type":"rect","fillOpacity":0,"stroke":"#333333","strokeWidth":1.4},"encoding":{"x":{"datum":0,"type":"quantitative","scale":{"domain":[0,1],"range":[0,923.2],"nice":false,"zero":false},"axis":null},"x2":{"datum":1},"y":{"datum":0,"type":"quantitative","scale":{"domain":[0,1],"range":[0,303.7],"nice":false,"zero":false},"axis":null},"y2":{"datum":1}}},
   {"data":{"values":[{}]},"mark":{"type":"rule","color":"#333333","strokeWidth":1.4},"encoding":{"x":{"datum":0,"type":"quantitative","scale":{"domain":[0,1],"range":[0,923.2],"nice":false,"zero":false},"axis":null},"x2":{"datum":1},"y":{"datum":0.2394,"type":"quantitative","scale":{"domain":[0,1],"range":[0,303.7],"nice":false,"zero":false},"axis":null}}},
   {"data":{"values":[{}]},"mark":{"type":"text","align":"center","baseline":"middle","fontSize":19.5,"color":"black"},"encoding":{"x":{"datum":0.4928,"type":"quantitative","scale":{"domain":[0,1],"range":[0,923.2],"nice":false,"zero":false},"axis":null},"y":{"datum":0.0395,"type":"quantitative","scale":{"domain":[0,1],"range":[0,303.7],"nice":false,"zero":false},"axis":null},"text":{"value":"ENI Raffineria P20 Tr notturno"}}},
   {"data":{"name":"bt"},"mark":{"type":"rule","color":"#333333","strokeWidth":1.4,"yOffset":-12.8},"encoding":{"x":{"datum":0,"type":"quantitative","scale":{"domain":[0,1],"range":[0,923.2],"nice":false,"zero":false},"axis":null},"x2":{"datum":1},"y":{"field":"t","type":"nominal","scale":{"type":"point","domain":["hh:mm:ss","22:00:00","23:00:00","00:00:00","01:00:00","02:00:00","03:00:00","04:00:00","05:00:00"],"range":[88,293.7],"padding":0},"axis":null}}},
   {"data":{"values":[{}]},"mark":{"type":"text","align":"left","baseline":"middle","dx":-205,"fontSize":19,"color":"black"},"encoding":{"x":{"datum":"Leq","type":"nominal","scale":{"type":"point","domain":["Leq","L1","L5","L10","L90","L95","L99","Duration"],"range":[214,912.5],"padding":0},"axis":null},"y":{"datum":"hh:mm:ss","type":"nominal","scale":{"type":"point","domain":["hh:mm:ss","22:00:00","23:00:00","00:00:00","01:00:00","02:00:00","03:00:00","04:00:00","05:00:00"],"range":[88,293.7],"padding":0},"axis":null},"text":{"value":"hh:mm:ss"}}},
   {"data":{"name":"bth"},"mark":{"type":"text","align":"right","baseline":"middle","fontSize":19,"color":"black"},"encoding":{"x":{"field":"k","type":"nominal","scale":{"type":"point","domain":["Leq","L1","L5","L10","L90","L95","L99","Duration"],"range":[214,912.5],"padding":0},"axis":null},"y":{"datum":"hh:mm:ss","type":"nominal","scale":{"type":"point","domain":["hh:mm:ss","22:00:00","23:00:00","00:00:00","01:00:00","02:00:00","03:00:00","04:00:00","05:00:00"],"range":[88,293.7],"padding":0},"axis":null},"text":{"field":"h"}}},
   {"data":{"name":"bt"},"mark":{"type":"text","align":"left","baseline":"middle","dx":-205,"fontSize":19,"color":"black"},"encoding":{"x":{"datum":"Leq","type":"nominal","scale":{"type":"point","domain":["Leq","L1","L5","L10","L90","L95","L99","Duration"],"range":[214,912.5],"padding":0},"axis":null},"y":{"field":"t","type":"nominal","scale":{"type":"point","domain":["hh:mm:ss","22:00:00","23:00:00","00:00:00","01:00:00","02:00:00","03:00:00","04:00:00","05:00:00"],"range":[88,293.7],"padding":0},"axis":null},"text":{"field":"t"}}},
   {"data":{"name":"bt"},"transform":[{"fold":["Leq","L1","L5","L10","L90","L95","L99","Duration"]}],"mark":{"type":"text","align":"right","baseline":"middle","fontSize":19,"color":"black"},"encoding":{"x":{"field":"key","type":"nominal","scale":{"type":"point","domain":["Leq","L1","L5","L10","L90","L95","L99","Duration"],"range":[214,912.5],"padding":0},"axis":null},"y":{"field":"t","type":"nominal","scale":{"type":"point","domain":["hh:mm:ss","22:00:00","23:00:00","00:00:00","01:00:00","02:00:00","03:00:00","04:00:00","05:00:00"],"range":[88,293.7],"padding":0},"axis":null},"text":{"field":"value","type":"quantitative","format":".1f"}}}
  ]}
],"spacing":0,"bounds":"flush"}
]
}
